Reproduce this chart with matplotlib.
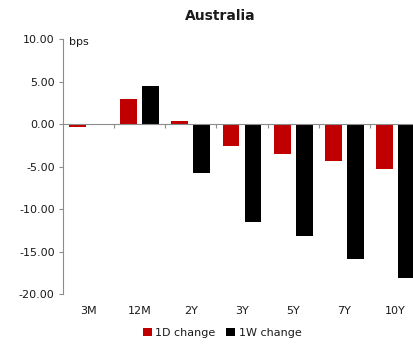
import matplotlib
matplotlib.use("Agg")
import matplotlib.pyplot as plt
import numpy as np

categories = ["3M", "12M", "2Y", "3Y", "5Y", "7Y", "10Y"]
change_1d = [-0.3, 3.0, 0.35, -2.6, -3.5, -4.3, -5.3]
change_1w = [0.0, 4.5, -5.8, -11.45, -13.1, -15.9, -18.1]
yticks = [10, 5, 0, -5, -10, -15, -20]

RED = "#C00000"
BLACK = "#000000"
SPINE = "#8C8C8C"
TEXT = "#1A1A1A"

plt.rcParams["font.family"] = ["DejaVu Sans"]

W, H = 413, 344
fig = plt.figure(figsize=(W / 100, H / 100), dpi=100)
fig.patch.set_facecolor("white")

left_px, right_px, top_px, bot_px = 63, 421, 39, 294.3
ax = fig.add_axes([left_px / W, 1 - bot_px / H,
                   (right_px - left_px) / W, (bot_px - top_px) / H])

x = np.arange(len(categories))
bw = 0.33
off = 0.215
ax.bar(x - off, change_1d, width=bw, color=RED, label="1D change", zorder=3)
ax.bar(x + off, change_1w, width=bw, color=BLACK, label="1W change", zorder=3)

ax.set_xlim(-0.5, len(categories) - 0.5)
ax.set_ylim(-20, 10)

# y axis
ax.set_yticks(yticks)
ax.set_yticklabels([f"{v:.2f}" for v in yticks], fontsize=8, color=TEXT)
ax.tick_params(axis="y", direction="out", length=3, width=0.8, color=SPINE, pad=3)

# x axis line sits at zero with boundary tick marks
ax.spines["bottom"].set_position(("data", 0))
ax.spines["bottom"].set_color(SPINE)
ax.spines["bottom"].set_linewidth(0.8)
ax.spines["left"].set_color(SPINE)
ax.spines["left"].set_linewidth(0.8)
ax.spines["top"].set_visible(False)
ax.spines["right"].set_visible(False)
ax.spines["bottom"].set_zorder(4)

ax.set_xticks(np.arange(0.5, len(categories) - 0.5, 1.0))
ax.set_xticklabels([])
ax.tick_params(axis="x", direction="out", length=3, width=0.8, color=SPINE)

# category labels below the plot
for xi, lab in zip(x, categories):
    ax.text(xi, -0.065, lab, transform=ax.get_xaxis_transform(),
            ha="center", va="center", fontsize=8, color=TEXT)

fig.text(69 / W, 1 - 42 / H, "bps", fontsize=8, color=TEXT, ha="left", va="center")
fig.text(220 / W, 1 - 16 / H, "Australia", fontsize=10, fontweight="bold",
         color=TEXT, ha="center", va="center")

fig.legend(loc="center", bbox_to_anchor=(222 / W, 1 - 333 / H), ncol=2,
           frameon=False, fontsize=8, handlelength=0.8, handleheight=0.8,
           handletextpad=0.3, columnspacing=1.0, labelcolor=TEXT)

fig.savefig("out.png", dpi=100)
